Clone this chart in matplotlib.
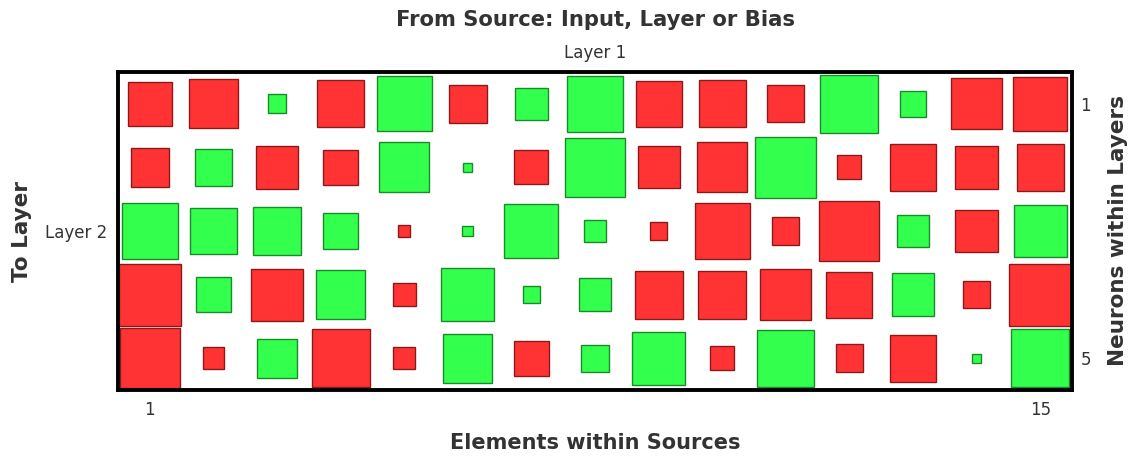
import numpy as np
import matplotlib
matplotlib.use("Agg")
from matplotlib import pyplot as plt
from matplotlib.patches import Rectangle

plt.rcParams['font.family'] = ['DejaVu Sans']

# weights, rows = neurons in layer 2, cols = elements of layer 1
row1 = [-0.50, -0.62, 0.09, -0.57, 0.79, -0.38, 0.27, 0.82, -0.55, -0.57, -0.36, 0.88, 0.18, -0.68, -0.76]
row2 = [-0.38, 0.36, -0.48, -0.32, 0.65, 0.02, -0.30, 0.91, -0.46, -0.65, 0.97, -0.15, -0.57, -0.48, -0.57]
row3 = [0.82, 0.57, 0.60, 0.32, -0.04, 0.03, 0.76, 0.13, -0.08, -0.79, -0.19, -0.94, 0.25, -0.48, 0.73]
row4 = [-1.00, 0.32, -0.70, 0.62, -0.14, 0.73, 0.08, 0.28, -0.60, -0.60, -0.68, -0.55, 0.48, -0.18, -1.00]
row5 = [-0.94, -0.12, 0.40, -0.88, -0.12, 0.62, -0.32, 0.19, 0.73, -0.15, 0.85, -0.20, -0.57, 0.02, 0.88]
W = np.array([row1, row2, row3, row4, row5])

source_label = "Layer 1"
target_label = "Layer 2"

nrows, ncols = W.shape
wmax = np.abs(W).max()
txt = '#333333'

fig = plt.figure(figsize=(11.36, 4.61), dpi=100)
ax = fig.add_axes([118/1136, 1-390/461, 954/1136, 318/461])

for r in range(nrows):
    for c in range(ncols):
        w = W[r, c]
        s = 0.975 * np.sqrt(abs(w) / wmax)
        if w < 0:
            fc, ec = '#ff3333', '#8a1a1a'
        else:
            fc, ec = '#33ff4d', '#1a8a2a'
        ax.add_patch(Rectangle((c + 1 - s/2, r + 1 - s/2), s, s,
                               facecolor=fc, edgecolor=ec, linewidth=1.0))

ax.set_xlim(0.5, ncols + 0.5)
ax.set_ylim(nrows + 0.5, 0.5)
for sp in ax.spines.values():
    sp.set_linewidth(2.8)
    sp.set_color('black')

ax.set_xticks([1, ncols])
ax.set_xticklabels(['1', str(ncols)], fontsize=12, color=txt)
ax.tick_params(axis='x', length=0, pad=8)
ax.set_yticks([3])
ax.set_yticklabels([target_label], fontsize=12, color=txt)
ax.tick_params(axis='y', length=0, pad=8)

ax2 = ax.secondary_yaxis('right')
ax2.set_yticks([1, nrows])
ax2.set_yticklabels(['1', str(nrows)], fontsize=12, color=txt)
ax2.tick_params(length=0, pad=6)
ax2.spines['right'].set_visible(False)
ax2.set_ylabel('Neurons within Layers', fontsize=15.5, fontweight='bold', color=txt, labelpad=12)

ax.text(0.5, 1.03, source_label, transform=ax.transAxes, ha='center', va='bottom', fontsize=12, color=txt)
ax.set_title('From Source: Input, Layer or Bias', fontsize=15.2, fontweight='bold', color=txt, pad=33)
ax.set_xlabel('Elements within Sources', fontsize=15, fontweight='bold', color=txt, labelpad=10)
ax.set_ylabel('To Layer', fontsize=15.5, fontweight='bold', color=txt, labelpad=9)

fig.savefig('out.png', dpi=100)
